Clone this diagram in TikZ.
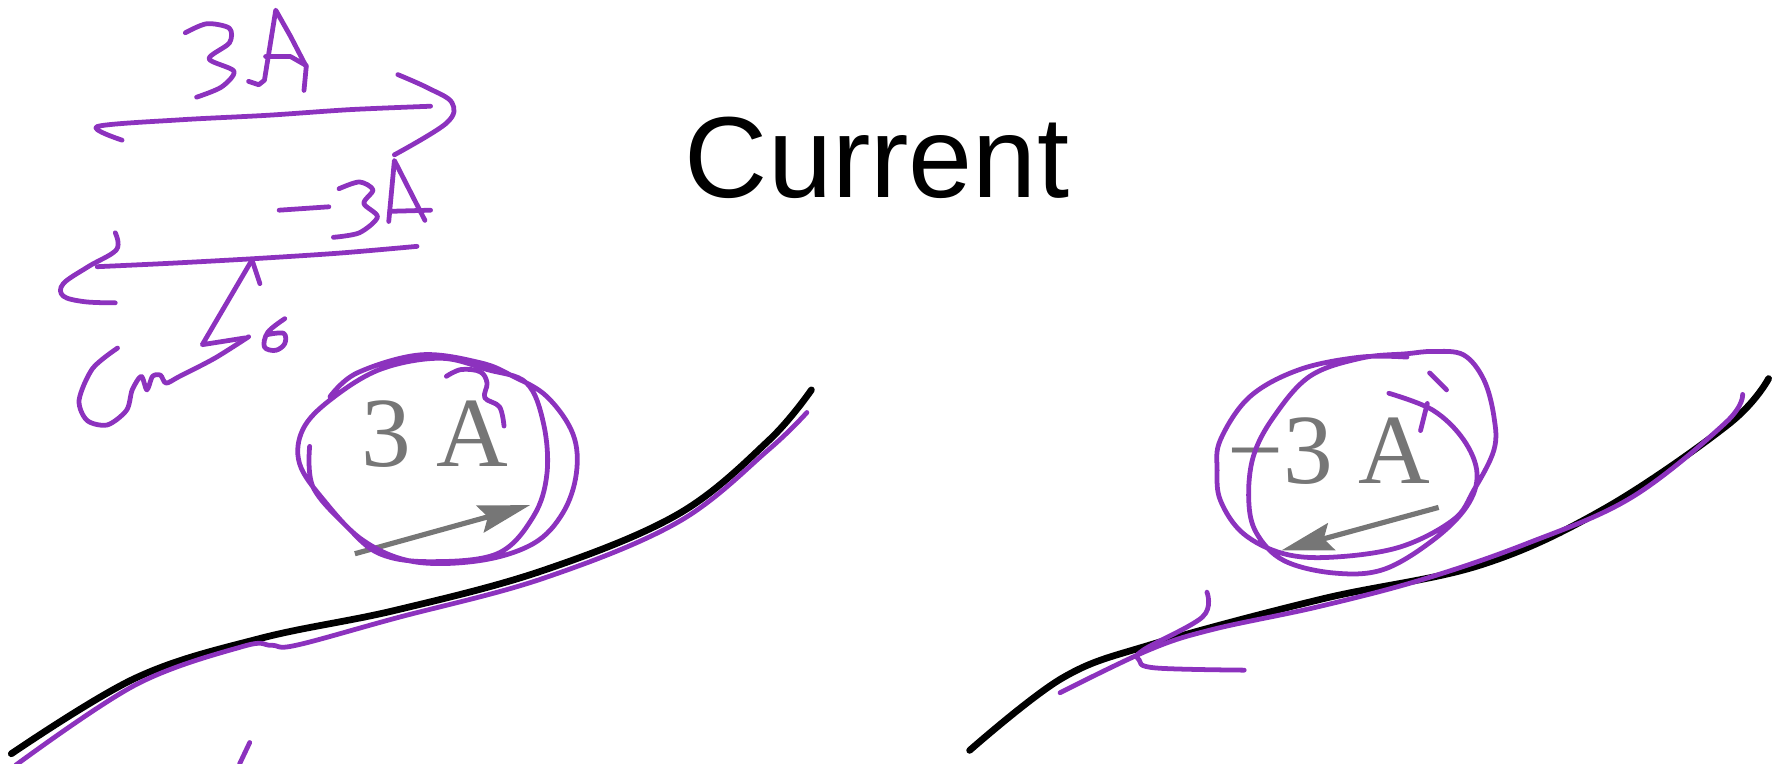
\documentclass[tikz,border=0pt]{standalone}
\usepackage{fontspec}
\setmainfont{Liberation Serif}
\setsansfont{Liberation Sans}
\usetikzlibrary{arrows.meta}
\definecolor{pen}{RGB}{140,50,190}
\definecolor{slidegray}{RGB}{118,118,118}
\tikzset{ink/.style={pen,line width=1.2pt,line cap=round,line join=round},
  wire/.style={black,line width=1.7pt,line cap=round},
  flow/.style={slidegray,line width=1.3pt,-{Stealth[length=13pt,width=7pt,inset=2pt]}},
  val/.style={slidegray,font=\fontsize{25}{30}\selectfont,inner sep=0pt,anchor=base}}

\begin{document}
\begin{tikzpicture}[x=0.01cm,y=-0.01cm]
\useasboundingbox (0,0) rectangle (1568,676);
\node[font=\sffamily\fontsize{29}{35}\selectfont,inner sep=0pt,anchor=base] (title) at (776,175) {Current};
% printed slide
\draw[wire] plot[smooth,tension=0.6] coordinates {(10,667) (120,600) (230,565) (350,540) (480,505) (600,455) (680,390) (718,345)};
\draw[wire] plot[smooth,tension=0.6] coordinates {(858,664) (940,600) (1020,570) (1170,530) (1310,500) (1420,450) (1530,375) (1565,335)};
\node[val] (pos) at (385,413) {3 A};
\node[val] (neg) at (1176,428) {−3 A};
\coordinate (p0) at (314,490);
\coordinate (p1) at (469,447);
\coordinate (n0) at (1273,449);
\coordinate (n1) at (1134,487);
\draw[flow] (p0) -- (p1);
\draw[flow] (n0) -- (n1);
% pen notes
\draw[ink] plot[smooth,tension=0.5] coordinates {(164,29) (183,21) (203,25) (203,38) (185,52) (207,63) (196,77) (174,86)};
\draw[ink] (220,72) -- (229,75) -- (234,71) -- (244,9) -- (257,32) -- (271,59) -- (269,80);
\draw[ink] (235,50) -- (257,50) -- (271,58);
\draw[ink] plot[smooth,tension=0.5] coordinates {(108,124) (86,112) (160,106) (237,102) (310,97) (381,94)};
\draw[ink] plot[smooth,tension=0.6] coordinates {(352,66) (379,78) (400,91) (395,109) (349,137)};
\draw[ink] (247,186) -- (291,183);
\draw[ink] plot[smooth,tension=0.5] coordinates {(300,167) (318,161) (330,168) (322,180) (334,192) (318,206) (295,210)};
\draw[ink] (344,196) -- (349,142) -- (376,195);
\draw[ink] (345,187) -- (381,186);
\draw[ink] plot[smooth,tension=0.5] coordinates {(369,218) (300,224) (223,229) (150,233) (86,236)};
\draw[ink] plot[smooth,tension=0.6] coordinates {(102,206) (103,221) (78,236) (56,251) (56,262) (75,267) (102,268)};
\draw[ink] (223,230) -- (230,251);
\draw[ink] (223,230) -- (179,305) -- (217,299);
\draw[ink] plot[smooth,tension=0.6] coordinates {(252,282) (237,294) (234,307) (244,310) (252,304) (251,295) (237,296)};
\draw[ink] plot[smooth,tension=0.5] coordinates {(104,308) (82,326) (70,354) (77,372) (95,376) (112,363) (117,345) (125,333) (130,345) (135,333) (142,332) (147,339) (159,333) (190,317) (220,298)};
% circles round the values
\draw[ink] plot[smooth,tension=0.6] coordinates {(292,351) (316,330) (372,314) (425,321) (454,333) (484,351) (507,384) (510,419) (498,454) (472,481) (425,496) (366,497) (321,478) (286,442) (265,410) (268,380) (292,354) (336,327) (389,317) (431,327) (466,339) (481,375) (484,419) (472,457) (440,490) (380,497) (336,490) (307,466) (277,431) (274,395)};
\draw[ink] plot[smooth,tension=0.6] coordinates {(395,333) (408,327) (425,329) (431,339) (429,352) (442,360) (446,377)};
\draw[ink] plot[smooth,tension=0.6] coordinates {(1229,348) (1268,363) (1295,389) (1307,419) (1298,448) (1268,478) (1224,504) (1180,507) (1136,496) (1112,472) (1105,443) (1109,404) (1127,369) (1159,333) (1204,317) (1245,313) (1268,311) (1295,314) (1313,336) (1322,369) (1322,398) (1304,434) (1286,460) (1239,484) (1180,493) (1136,490) (1100,472) (1080,443) (1077,416) (1080,389) (1106,351) (1150,327) (1204,316) (1245,316)};
\draw[ink] (1265,330) -- (1280,345);
\draw[ink] (1263,357) -- (1257,381);
% traced wires
\draw[ink] plot[smooth,tension=0.6] coordinates {(14,677) (120,606) (215,572) (240,571) (262,571) (350,547) (480,512) (600,462) (680,398) (714,365)};
\draw[ink] plot[smooth,tension=0.6] coordinates {(1542,349) (1527,374) (1444,440) (1351,481) (1258,513) (1166,537) (1073,557) (1017,575) (938,613)};
\draw[ink] plot[smooth,tension=0.6] coordinates {(1068,524) (1064,546) (1012,575) (1008,584) (1022,591) (1101,593)};
\draw[ink] (221,657) -- (212,676);
\end{tikzpicture}
\end{document}
